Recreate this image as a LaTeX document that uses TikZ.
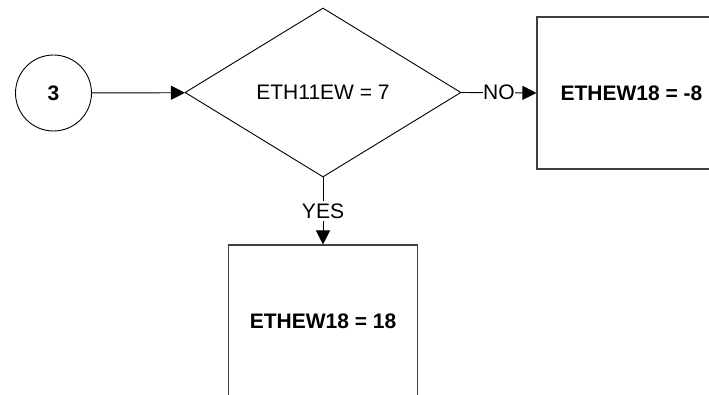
\documentclass[tikz,border=0pt]{standalone}
\usepackage{fontspec}
\setmainfont{Liberation Sans}
\usetikzlibrary{shapes.geometric,arrows.meta}
\begin{document}
\begin{tikzpicture}[x=1pt,y=-1pt,
  font=\fontsize{21}{25}\selectfont,
  conn/.style={draw=black, line width=0.9pt, -{Triangle[length=14pt,width=14pt]}},
  procbox/.style={draw=black!75, line width=1.1pt, minimum width=189pt, minimum height=152pt, inner sep=0pt, font=\fontsize{21}{25}\selectfont\bfseries},
  conncirc/.style={circle, draw=black, line width=0.9pt, minimum size=76pt, inner sep=0pt, font=\fontsize{21}{25}\selectfont\bfseries},
  decision/.style={diamond, draw=black, line width=0.9pt, minimum width=276pt, minimum height=169pt, inner sep=0pt},
  lbl/.style={fill=white, inner xsep=0pt, inner ysep=3pt}]
\useasboundingbox (0,0) rectangle (709,395);
\clip (0,0) rectangle (709,395);
\node[conncirc] (c3) at (53.5,93) {3};
\node[decision] (d) at (323,92.5) {ETH11EW = 7};
\node[procbox] (no) at (631.5,93) {ETHEW18 = -8};
\node[procbox] (yes) at (323,321) {ETHEW18 = 18};
\draw[conn] (c3) -- (d);
\draw[conn] (d.east) -- node[lbl]{NO} (no.west);
\draw[conn] (d.south) -- node[lbl]{YES} (yes.north);
\end{tikzpicture}
\end{document}
